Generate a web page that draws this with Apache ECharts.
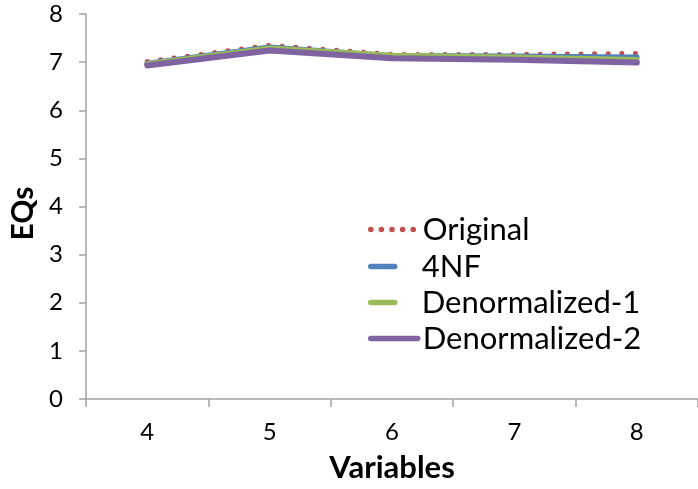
<!DOCTYPE html>
<html>
<head>
<meta charset="utf-8">
<script src="https://cdn.jsdelivr.net/npm/echarts@6/dist/echarts.min.js"></script>
<style>
  html, body { margin: 0; padding: 0; background: #ffffff; }
  #chart { width: 698px; height: 489px; }
</style>
</head>
<body>
<div id="chart"></div>
<script>
// Number of variables on the horizontal axis
const variables = ['4', '5', '6', '7', '8'];

// EQs per schema variant
const original = [7.01, 7.35, 7.16, 7.16, 7.18];
const fourNF = [6.97, 7.31, 7.13, 7.12, 7.10];
const denorm1 = [6.96, 7.29, 7.14, 7.10, 7.05];
const denorm2 = [6.93, 7.24, 7.08, 7.05, 6.99];

const seriesNames = ['Original', '4NF', 'Denormalized-1', 'Denormalized-2'];
const yTicks = [0, 1, 2, 3, 4, 5, 6, 7, 8];

const FONT = 'Lato, "Liberation Sans", sans-serif';
const AXIS_GREY = '#a3a3a3';
const COLORS = ['#c0504d', '#4f81bd', '#9bbb59', '#8064a2'];

const chart = echarts.init(document.getElementById('chart'), null, { renderer: 'canvas' });

// one legend block per series so each key can have its own length
function legendFor(i, top, iconWidth, textPad, dash) {
  return {
    data: [seriesNames[i]],
    left: 368,
    top: top,
    orient: 'vertical',
    padding: 0,
    itemWidth: iconWidth,
    itemHeight: 8,
    itemStyle: { opacity: 0 },
    lineStyle: { width: 5.5, type: dash || 'solid', cap: 'round' },
    textStyle: { fontFamily: FONT, fontSize: 31, color: '#000', padding: [0, 0, 0, textPad] },
    selectedMode: false
  };
}

chart.setOption({
  animation: false,
  backgroundColor: '#ffffff',
  color: COLORS,
  grid: { left: 86, top: 14, width: 618, height: 385, containLabel: false },
  legend: [
    legendFor(0, 214, 47, 0, [0.1, 10.5]),
    legendFor(1, 251, 24, 22),
    legendFor(2, 287, 24, 22),
    legendFor(3, 323, 47, 0)
  ],
  xAxis: {
    type: 'category',
    data: variables,
    boundaryGap: true,
    name: 'Variables',
    nameLocation: 'middle',
    nameGap: 53,
    nameTextStyle: { fontFamily: FONT, fontSize: 31, fontWeight: 'bold', color: '#000', verticalAlign: 'top' },
    axisLine: { lineStyle: { color: AXIS_GREY, width: 1.5 } },
    axisTick: { show: true, length: 8, lineStyle: { color: AXIS_GREY, width: 1.5 } },
    axisLabel: { fontFamily: FONT, fontSize: 24, color: '#000', margin: 21 },
    splitLine: { show: false }
  },
  yAxis: {
    type: 'value',
    min: yTicks[0],
    max: yTicks[yTicks.length - 1],
    interval: 1,
    name: 'EQs',
    nameLocation: 'middle',
    nameGap: 47,
    nameRotate: 90,
    nameTextStyle: { fontFamily: FONT, fontSize: 30, fontWeight: 'bold', color: '#000', padding: [0, 14, 0, 0] },
    axisLine: { show: true, lineStyle: { color: AXIS_GREY, width: 1.5 } },
    axisTick: { show: true, length: 7, lineStyle: { color: AXIS_GREY, width: 1.5 } },
    axisLabel: { fontFamily: FONT, fontSize: 24, color: '#000', margin: 23 },
    splitLine: { show: false }
  },
  series: [
    {
      name: seriesNames[0], type: 'line', data: original, symbol: 'none',
      lineStyle: { width: 5, type: [0.1, 13.5], cap: 'round', color: COLORS[0] }
    },
    {
      name: seriesNames[1], type: 'line', data: fourNF, symbol: 'none',
      lineStyle: { width: 5.5, cap: 'round', join: 'round', color: COLORS[1] }
    },
    {
      name: seriesNames[2], type: 'line', data: denorm1, symbol: 'none',
      lineStyle: { width: 5.5, cap: 'round', join: 'round', color: COLORS[2] }
    },
    {
      name: seriesNames[3], type: 'line', data: denorm2, symbol: 'none',
      lineStyle: { width: 6, cap: 'round', join: 'round', color: COLORS[3] }
    }
  ]
});
</script>
</body>
</html>
